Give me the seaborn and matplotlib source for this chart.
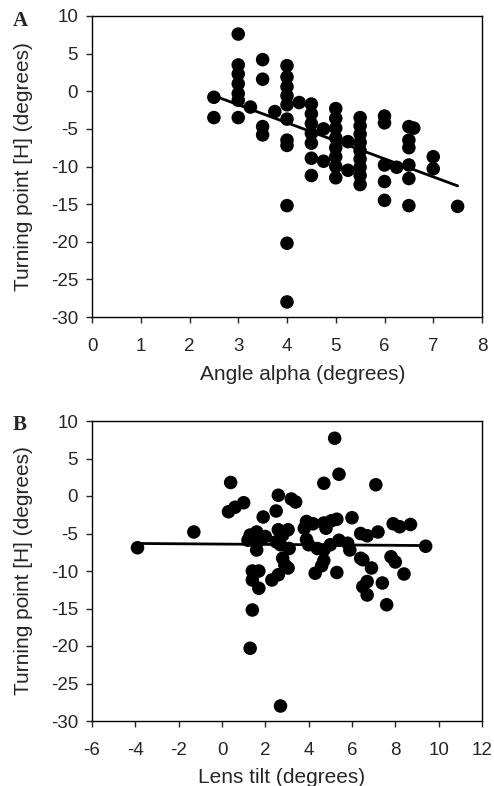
import numpy as np
import pandas as pd
import seaborn as sns
import matplotlib
matplotlib.use("Agg")
import matplotlib.pyplot as plt

# Panel A: angle alpha vs turning point
alpha_x = [2.5, 2.5,
           3.0, 3.0, 3.0, 3.0, 3.0, 3.0, 3.0,
           3.25,
           3.5, 3.5, 3.5, 3.5,
           3.75,
           4.0, 4.0, 4.0, 4.0, 4.0, 4.0, 4.0, 4.0, 4.0, 4.0, 4.0,
           4.25,
           4.5, 4.5, 4.5, 4.5, 4.5, 4.5, 4.5,
           4.75, 4.75,
           5.0, 5.0, 5.0, 5.0, 5.0, 5.0, 5.0, 5.0,
           5.25, 5.25,
           5.5, 5.5, 5.5, 5.5, 5.5, 5.5, 5.5, 5.5, 5.5,
           6.0, 6.0, 6.0, 6.0, 6.0,
           6.25,
           6.5, 6.5, 6.5, 6.5, 6.5, 6.5,
           6.6,
           7.0, 7.0,
           7.5]
alpha_y = [-0.8, -3.5,
           7.6, 3.5, 2.3, 1.0, -0.3, -1.2, -3.5,
           -2.1,
           4.2, 1.6, -4.7, -5.8,
           -2.7,
           3.4, 1.9, 0.6, -0.6, -1.8, -3.7, -6.5, -7.2, -15.2, -20.2, -28.0,
           -1.5,
           -1.7, -3.0, -4.3, -5.6, -6.9, -8.9, -11.2,
           -5.0, -9.3,
           -2.3, -3.6, -4.9, -6.2, -7.5, -8.7, -10.0, -11.5,
           -6.7, -10.5,
           -3.5, -4.6, -5.7, -6.8, -7.9, -9.0, -10.1, -11.2, -12.4,
           -3.3, -4.2, -9.8, -12.0, -14.5,
           -10.1,
           -4.7, -6.5, -7.5, -9.8, -11.6, -15.2,
           -4.9,
           -8.7, -10.3,
           -15.3]

# Panel B: lens tilt vs turning point
tilt_x = [-3.9, -1.3, 0.4, 0.3, 0.6, 1.0, 1.9, 2.5, 2.6, 3.2, 3.4,
          5.2, 5.4, 4.7, 7.1, 6.0, 3.9, 4.2, 4.7, 5.05, 5.3, 4.8, 3.8,
          7.9, 8.2, 8.7, 7.2, 6.4, 6.7, 1.3, 1.6, 2.0, 2.6, 3.05, 2.8,
          1.2, 1.6, 1.6, 2.5, 2.7, 3.1, 3.9, 4.0, 4.4, 4.7, 5.0, 5.4,
          5.8, 5.9, 6.4, 6.5, 7.8, 8.0, 2.8, 2.9, 3.05, 4.7, 6.9, 1.4,
          1.7, 1.4, 1.7, 2.3, 2.6, 4.3, 4.6, 5.3, 6.5, 6.7, 7.4, 6.7,
          7.6, 8.4, 9.4, 1.4, 1.3, 2.7]
tilt_y = [-6.9, -4.8, 1.8, -2.1, -1.5, -0.9, -2.8, -2.0, 0.1, -0.4, -0.8,
          7.7, 2.9, 1.7, 1.5, -2.9, -3.4, -3.7, -3.6, -3.3, -3.1, -4.3, -4.3,
          -3.7, -4.1, -3.8, -4.8, -5.0, -5.3, -5.2, -4.8, -5.4, -4.5, -4.5, -5.2,
          -5.9, -7.2, -6.3, -6.1, -6.5, -7.0, -5.8, -6.5, -7.0, -7.2, -6.5, -5.9,
          -6.3, -7.2, -8.3, -8.5, -8.1, -8.8, -8.3, -9.2, -9.6, -8.6, -9.6, -10.0,
          -10.0, -11.2, -12.3, -11.2, -10.5, -10.3, -9.3, -10.2, -12.1, -11.4, -11.6, -13.2,
          -14.5, -10.4, -6.7, -15.2, -20.3, -28.0]

df_a = pd.DataFrame({"alpha": alpha_x, "tp": alpha_y})
df_b = pd.DataFrame({"tilt": tilt_x, "tp": tilt_y})

sns.set_style("ticks")
plt.rcParams["font.family"] = ["Liberation Sans", "DejaVu Sans"]
plt.rcParams["axes.unicode_minus"] = False

fig = plt.figure(figsize=(4.94, 7.86), dpi=100)
ax_a = fig.add_axes([92 / 494, 1 - 317 / 786, 390 / 494, 301 / 786])
ax_b = fig.add_axes([92 / 494, 1 - 721 / 786, 390 / 494, 300 / 786])

pts = {"s": 95, "color": "black", "edgecolor": "none", "alpha": 1}
ln = {"color": "black", "lw": 2}

sns.regplot(data=df_a, x="alpha", y="tp", ax=ax_a, ci=None,
            scatter_kws=pts, line_kws=ln)
sns.regplot(data=df_b, x="tilt", y="tp", ax=ax_b, ci=None,
            scatter_kws=pts, line_kws=ln)

ax_a.set_xlim(0, 8)
ax_a.set_xticks(range(0, 9))
ax_b.set_xlim(-6, 12)
ax_b.set_xticks(range(-6, 13, 2))
ax_a.set_xlabel("Angle alpha (degrees)", fontsize=15)
ax_b.set_xlabel("Lens tilt (degrees)", fontsize=15)
ax_a.xaxis.set_label_coords(0.541, -0.158)
ax_b.xaxis.set_label_coords(0.487, -0.158)

for ax in (ax_a, ax_b):
    ax.set_ylim(-30, 10)
    ax.set_yticks(range(-30, 11, 5))
    ax.set_ylabel("Turning point [H] (degrees)", fontsize=15)
    ax.yaxis.set_label_coords(-0.151, 0.5)
    ax.tick_params(direction="out", length=4, width=1, labelsize=13.5)
    ax.tick_params(axis="x", pad=11)
    ax.tick_params(axis="y", pad=6)
    for sp in ax.spines.values():
        sp.set_visible(True)
        sp.set_linewidth(1)
        sp.set_color("black")

fig.text(20 / 494, 1 - 21 / 786, "A", ha="center", va="center",
         fontsize=15, fontweight="bold", family="Liberation Serif")
fig.text(20 / 494, 1 - 425 / 786, "B", ha="center", va="center",
         fontsize=15, fontweight="bold", family="Liberation Serif")

fig.savefig("out.png", dpi=100)
